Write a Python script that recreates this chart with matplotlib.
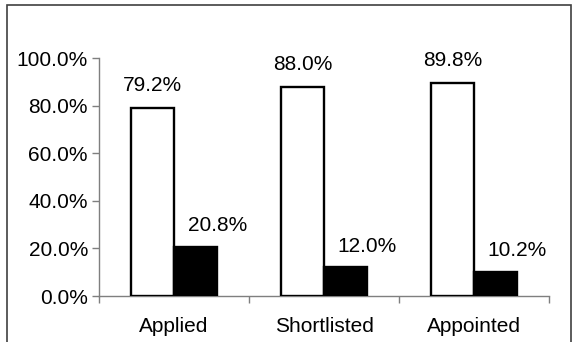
import numpy as np
import matplotlib.pyplot as plt
from matplotlib.patches import Rectangle
from matplotlib.ticker import FuncFormatter

plt.rcParams['font.family'] = ['Liberation Sans', 'DejaVu Sans']

# donnees
categories = ["Applied", "Shortlisted", "Appointed"]
white_vals = [79.2, 88.0, 89.8]
black_vals = [20.8, 12.0, 10.2]

fig = plt.figure(figsize=(5.78, 3.42), dpi=100)
ax = fig.add_axes([0.1713, 0.1345, 0.7785, 0.695])

# cadre exterieur (coupe en bas)
fig.patches.append(Rectangle((7/578, -0.1), (571-7)/578, 1.1 - 5.5/342,
                             transform=fig.transFigure, fill=False,
                             edgecolor='#404040', linewidth=1.2))

x = np.arange(len(categories))
w = 0.287
ax.bar(x - w/2, white_vals, w, color='white', edgecolor='black', linewidth=1.7, zorder=3)
ax.bar(x + w/2, black_vals, w, color='black', edgecolor='black', linewidth=1.7, zorder=3)

for i in range(len(categories)):
    ax.annotate("%.1f%%" % white_vals[i], (x[i] - w/2, white_vals[i]),
                xytext=(0, 15.8), textcoords='offset points',
                ha='center', va='center', fontsize=15)
    ax.annotate("%.1f%%" % black_vals[i], (x[i] + 0.29, black_vals[i]),
                xytext=(0, 15.2), textcoords='offset points',
                ha='center', va='center', fontsize=15)

ax.set_xlim(-0.5, 2.5)
ax.set_ylim(0, 100)
ax.set_yticks(np.arange(0, 101, 20))
ax.yaxis.set_major_formatter(FuncFormatter(lambda v, p: "%.1f%%" % v))
ax.set_xticks([-0.5, 0.5, 1.5, 2.5])
ax.set_xticklabels([])
ax.set_xticks(x, minor=True)
ax.set_xticklabels(categories, minor=True)

ax.tick_params(axis='y', direction='out', length=5, width=1, color='#7f7f7f', labelsize=15, pad=3)
ax.tick_params(axis='x', which='major', direction='out', length=5, width=1, color='#7f7f7f')
ax.tick_params(axis='x', which='minor', length=0, labelsize=15, pad=15)

for s in ['top', 'right']:
    ax.spines[s].set_visible(False)
for s in ['left', 'bottom']:
    ax.spines[s].set_color('#7f7f7f')
    ax.spines[s].set_linewidth(1)

fig.savefig("out.png", dpi=100)
